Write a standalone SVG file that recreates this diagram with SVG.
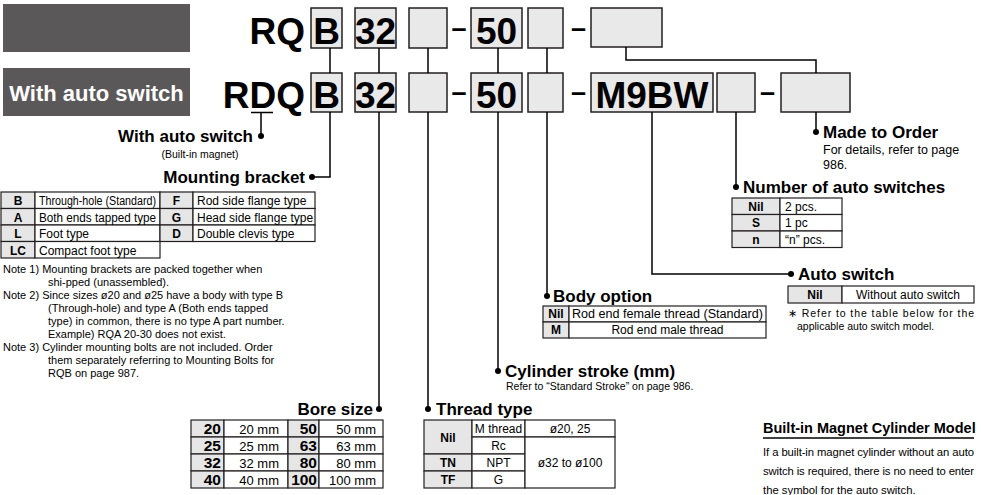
<svg xmlns="http://www.w3.org/2000/svg" width="981" height="495" viewBox="0 0 981 495">
<style>
text { font-family: 'Liberation Sans', Arial, Helvetica, sans-serif; fill: #000; }
.dark { fill: #5b5859; }
.box { fill: #e9e9e9; stroke: #231f20; stroke-width: 1.5; }
.big { font-size: 37px; font-weight: bold; }
.bigc { font-size: 37px; font-weight: bold; text-anchor: middle; }
.dash { font-size: 27px; font-weight: bold; text-anchor: middle; }
.hdr { font-size: 17px; font-weight: bold; }
.sm { font-size: 10.5px; }
.note { font-size: 11px; }
.cell { fill: #fff; stroke: #231f20; stroke-width: 1.2; }
.gcell { fill: #e6e6e6; stroke: #231f20; stroke-width: 1.2; }
.tc { font-size: 12px; }
.tcm { font-size: 12px; text-anchor: middle; }
.tb { font-size: 12px; font-weight: bold; text-anchor: middle; }
.bb { font-size: 15.5px; font-weight: bold; text-anchor: end; }
.bd { font-size: 13px; text-anchor: end; }
.para { font-size: 11.3px; }
.line { fill: none; stroke: #000; stroke-width: 1.5; }
.dot { fill: #000; }
</style>

<g id="header-standard">
  <rect class="dark" x="3" y="4" width="187" height="48"/>
</g>
<g id="header-auto">
  <rect class="dark" x="3" y="68" width="187" height="48"/>
  <text x="96.5" y="101" style="font-size:22px;font-weight:bold;fill:#fff;text-anchor:middle">With auto switch</text>
</g>

<g id="row1">
  <text class="big" x="305" y="44" text-anchor="end">RQ</text>
  <rect class="box" x="311" y="8" width="31" height="40"/>
  <text class="bigc" x="326.5" y="44">B</text>
  <rect class="box" x="355" y="8" width="41" height="40"/>
  <text class="bigc" x="375.5" y="44">32</text>
  <rect class="box" x="409" y="8" width="38" height="40"/>
  <text class="dash" x="459" y="36.5">–</text>
  <rect class="box" x="471" y="8" width="51" height="40"/>
  <text class="bigc" x="496.5" y="44">50</text>
  <rect class="box" x="528" y="8" width="35" height="40"/>
  <text class="dash" x="578.5" y="36.5">–</text>
  <rect class="box" x="591" y="8" width="71" height="39"/>
</g>

<g id="row2">
  <text class="big" x="305" y="108" text-anchor="end">RDQ</text>
  <rect class="box" x="311" y="73" width="31" height="39"/>
  <text class="bigc" x="326.5" y="108">B</text>
  <rect class="box" x="355" y="73" width="41" height="39"/>
  <text class="bigc" x="375.5" y="108">32</text>
  <rect class="box" x="409" y="73" width="38" height="39"/>
  <text class="dash" x="459" y="100.5">–</text>
  <rect class="box" x="471" y="73" width="51" height="39"/>
  <text class="bigc" x="496.5" y="108">50</text>
  <rect class="box" x="528" y="73" width="35" height="39"/>
  <text class="dash" x="578.5" y="100.5">–</text>
  <rect class="box" x="591" y="73" width="122" height="39"/>
  <text class="bigc" x="652" y="108">M9BW</text>
  <rect class="box" x="717" y="73" width="38" height="39"/>
  <text class="dash" x="767.5" y="100.5">–</text>
  <rect class="box" x="781" y="73" width="69" height="39"/>
</g>

<g id="connectors">
  <path class="line" d="M330,48 V73 M379,48 V73 M428,48 V73 M498,48 V73 M547,48 V73 M626,47 V60 H816 V73"/>
  <path class="line" d="M251,112.5 H273 M261,112.5 V136"/>
  <path class="line" d="M330,112 V177 H312"/>
  <path class="line" d="M379,112 V409"/>
  <path class="line" d="M428,112 V409"/>
  <path class="line" d="M498,112 V371"/>
  <path class="line" d="M547,112 V296"/>
  <path class="line" d="M652,112 V274 H791"/>
  <path class="line" d="M736,112 V187"/>
  <path class="line" d="M816,112 V132"/>
  <circle class="dot" cx="261" cy="136" r="3"/>
  <circle class="dot" cx="312" cy="177" r="3"/>
  <circle class="dot" cx="379" cy="409" r="3"/>
  <circle class="dot" cx="428" cy="409" r="3"/>
  <circle class="dot" cx="498" cy="371" r="3"/>
  <circle class="dot" cx="547" cy="296" r="3"/>
  <circle class="dot" cx="791" cy="274" r="3"/>
  <circle class="dot" cx="736" cy="187" r="3"/>
  <circle class="dot" cx="816" cy="132" r="3"/>
</g>

<g id="with-auto-switch">
  <text class="hdr" x="253" y="142" text-anchor="end">With auto switch</text>
  <text class="sm" x="200" y="158" text-anchor="middle">(Built-in magnet)</text>
</g>

<g id="mounting-bracket">
  <text class="hdr" x="305" y="183" text-anchor="end">Mounting bracket</text>
  <rect class="gcell" x="1" y="192" width="34" height="16.5"/>
  <rect class="cell" x="35" y="192" width="125" height="16.5"/>
  <rect class="gcell" x="160" y="192" width="33" height="16.5"/>
  <rect class="cell" x="193" y="192" width="122" height="16.5"/>
  <rect class="gcell" x="1" y="208.5" width="34" height="16.5"/>
  <rect class="cell" x="35" y="208.5" width="125" height="16.5"/>
  <rect class="gcell" x="160" y="208.5" width="33" height="16.5"/>
  <rect class="cell" x="193" y="208.5" width="122" height="16.5"/>
  <rect class="gcell" x="1" y="225" width="34" height="16.5"/>
  <rect class="cell" x="35" y="225" width="125" height="16.5"/>
  <rect class="gcell" x="160" y="225" width="33" height="16.5"/>
  <rect class="cell" x="193" y="225" width="122" height="16.5"/>
  <rect class="gcell" x="1" y="241.5" width="34" height="16.5"/>
  <rect class="cell" x="35" y="241.5" width="125" height="16.5"/>
  <text class="tb" x="18" y="205">B</text>
  <text class="tc" x="39" y="205" textLength="117" lengthAdjust="spacingAndGlyphs">Through-hole (Standard)</text>
  <text class="tb" x="176.5" y="205">F</text>
  <text class="tc" x="197" y="205">Rod side flange type</text>
  <text class="tb" x="18" y="221.5">A</text>
  <text class="tc" x="39" y="221.5" textLength="117" lengthAdjust="spacingAndGlyphs">Both ends tapped type</text>
  <text class="tb" x="176.5" y="221.5">G</text>
  <text class="tc" x="197" y="221.5">Head side flange type</text>
  <text class="tb" x="18" y="238">L</text>
  <text class="tc" x="39" y="238">Foot type</text>
  <text class="tb" x="176.5" y="238">D</text>
  <text class="tc" x="197" y="238">Double clevis type</text>
  <text class="tb" x="18" y="254.5">LC</text>
  <text class="tc" x="39" y="254.5">Compact foot type</text>
</g>

<g id="notes">
  <text class="note" x="3" y="273">Note 1) Mounting brackets are packed together when</text>
  <text class="note" x="48" y="286">shi-pped (unassembled).</text>
  <text class="note" x="3" y="299">Note 2) Since sizes ø20 and ø25 have a body with type B</text>
  <text class="note" x="48" y="312">(Through-hole) and type A (Both ends tapped</text>
  <text class="note" x="48" y="325">type) in common, there is no type A part number.</text>
  <text class="note" x="48" y="338">Example) RQA 20-30 does not exist.</text>
  <text class="note" x="3" y="351">Note 3) Cylinder mounting bolts are not included. Order</text>
  <text class="note" x="48" y="364">them separately referring to Mounting Bolts for</text>
  <text class="note" x="48" y="377">RQB on page 987.</text>
</g>

<g id="bore-size">
  <text class="hdr" x="373" y="415" text-anchor="end">Bore size</text>
  <rect class="gcell" x="191" y="420" width="33" height="17"/>
  <rect class="cell" x="224" y="420" width="64" height="17"/>
  <rect class="gcell" x="288" y="420" width="31" height="17"/>
  <rect class="cell" x="319" y="420" width="64" height="17"/>
  <rect class="gcell" x="191" y="437" width="33" height="17"/>
  <rect class="cell" x="224" y="437" width="64" height="17"/>
  <rect class="gcell" x="288" y="437" width="31" height="17"/>
  <rect class="cell" x="319" y="437" width="64" height="17"/>
  <rect class="gcell" x="191" y="454" width="33" height="17"/>
  <rect class="cell" x="224" y="454" width="64" height="17"/>
  <rect class="gcell" x="288" y="454" width="31" height="17"/>
  <rect class="cell" x="319" y="454" width="64" height="17"/>
  <rect class="gcell" x="191" y="471" width="33" height="17"/>
  <rect class="cell" x="224" y="471" width="64" height="17"/>
  <rect class="gcell" x="288" y="471" width="31" height="17"/>
  <rect class="cell" x="319" y="471" width="64" height="17"/>
  <text class="bb" x="221" y="434">20</text>
  <text class="bd" x="279" y="433.5">20 mm</text>
  <text class="bb" x="317" y="434">50</text>
  <text class="bd" x="376" y="433.5">50 mm</text>
  <text class="bb" x="221" y="451">25</text>
  <text class="bd" x="279" y="450.5">25 mm</text>
  <text class="bb" x="317" y="451">63</text>
  <text class="bd" x="376" y="450.5">63 mm</text>
  <text class="bb" x="221" y="468">32</text>
  <text class="bd" x="279" y="467.5">32 mm</text>
  <text class="bb" x="317" y="468">80</text>
  <text class="bd" x="376" y="467.5">80 mm</text>
  <text class="bb" x="221" y="485">40</text>
  <text class="bd" x="279" y="484.5">40 mm</text>
  <text class="bb" x="317" y="485">100</text>
  <text class="bd" x="376" y="484.5">100 mm</text>
</g>

<g id="thread-type">
  <text class="hdr" x="436" y="415">Thread type</text>
  <rect class="gcell" x="424" y="420" width="48" height="34"/>
  <rect class="gcell" x="424" y="454" width="48" height="17"/>
  <rect class="gcell" x="424" y="471" width="48" height="17"/>
  <rect class="cell" x="472" y="420" width="53" height="17"/>
  <rect class="cell" x="472" y="437" width="53" height="17"/>
  <rect class="cell" x="472" y="454" width="53" height="17"/>
  <rect class="cell" x="472" y="471" width="53" height="17"/>
  <rect class="cell" x="525" y="420" width="90" height="17"/>
  <rect class="cell" x="525" y="437" width="90" height="51"/>
  <text class="tb" x="448" y="441.5">Nil</text>
  <text class="tb" x="448" y="467">TN</text>
  <text class="tb" x="448" y="484">TF</text>
  <text class="tcm" x="498.5" y="432.5">M thread</text>
  <text class="tcm" x="498.5" y="449.5">Rc</text>
  <text class="tcm" x="498.5" y="466.5">NPT</text>
  <text class="tcm" x="498.5" y="483.5">G</text>
  <text class="tcm" x="570" y="432.5">ø20, 25</text>
  <text class="tcm" x="570" y="466.5">ø32 to ø100</text>
</g>

<g id="cylinder-stroke">
  <text class="hdr" x="505" y="377">Cylinder stroke (mm)</text>
  <text class="sm" x="506" y="390">Refer to “Standard Stroke” on page 986.</text>
</g>

<g id="body-option">
  <text class="hdr" x="553" y="302">Body option</text>
  <rect class="gcell" x="543" y="306" width="26" height="16"/>
  <rect class="cell" x="569" y="306" width="197" height="16"/>
  <rect class="gcell" x="543" y="322" width="26" height="16"/>
  <rect class="cell" x="569" y="322" width="197" height="16"/>
  <text class="tb" x="556" y="318">Nil</text>
  <text class="tc" x="572" y="318" textLength="191" lengthAdjust="spacingAndGlyphs">Rod end female thread (Standard)</text>
  <text class="tb" x="556" y="334">M</text>
  <text class="tcm" x="667.5" y="334">Rod end male thread</text>
</g>

<g id="auto-switch">
  <text class="hdr" x="798" y="280">Auto switch</text>
  <rect class="gcell" x="788" y="286" width="54" height="17"/>
  <rect class="cell" x="842" y="286" width="132" height="17"/>
  <text class="tb" x="815" y="298.5">Nil</text>
  <text class="tcm" x="908" y="298.5">Without auto switch</text>
  <text class="sm" x="788" y="317" textLength="186">∗ Refer to the table below for the</text>
  <text class="sm" x="797" y="330">applicable auto switch model.</text>
</g>

<g id="number-of-auto-switches">
  <text class="hdr" x="743" y="193">Number of auto switches</text>
  <rect class="gcell" x="732" y="198" width="48" height="16.5"/>
  <rect class="cell" x="780" y="198" width="62" height="16.5"/>
  <rect class="gcell" x="732" y="214.5" width="48" height="16.5"/>
  <rect class="cell" x="780" y="214.5" width="62" height="16.5"/>
  <rect class="gcell" x="732" y="231" width="48" height="16.5"/>
  <rect class="cell" x="780" y="231" width="62" height="16.5"/>
  <text class="tb" x="756" y="210.5">Nil</text>
  <text class="tc" x="785" y="210.5">2 pcs.</text>
  <text class="tb" x="756" y="227">S</text>
  <text class="tc" x="785" y="227">1 pc</text>
  <text class="tb" x="756" y="243.5">n</text>
  <text class="tc" x="785" y="243.5">“n” pcs.</text>
</g>

<g id="made-to-order">
  <text class="hdr" x="823" y="138">Made to Order</text>
  <text x="823" y="154" style="font-size:12.5px">For details, refer to page</text>
  <text x="823" y="168.5" style="font-size:12.5px">986.</text>
</g>

<g id="built-in-magnet">
  <text x="763" y="433" style="font-size:14.5px;font-weight:bold">Built-in Magnet Cylinder Model</text>
  <line x1="763" y1="438" x2="974" y2="438" stroke="#000" stroke-width="1.5"/>
  <text class="para" x="763" y="456" textLength="211">If a built-in magnet cylinder without an auto</text>
  <text class="para" x="763" y="475" textLength="211">switch is required, there is no need to enter</text>
  <text class="para" x="763" y="493.5">the symbol for the auto switch.</text>
</g>
</svg>
